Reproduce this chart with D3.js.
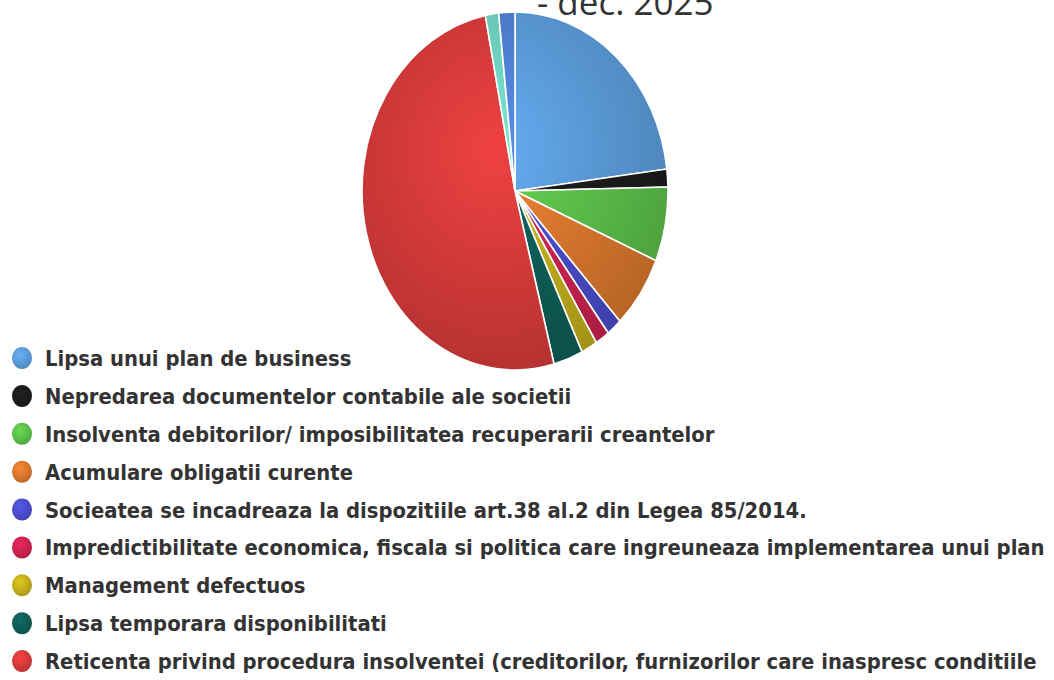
<!DOCTYPE html>
<html>
<head>
<meta charset="utf-8">
<script src="https://cdnjs.cloudflare.com/ajax/libs/d3/7.8.5/d3.min.js"></script>
<style>
    html, body { margin: 0; padding: 0; background: #fff; }
    svg { display: block; }
</style>
</head>
<body>
<div class="chart"></div>
<script>
    // slices, clockwise from 12 o'clock (percent)
    var categories = [
        "Lipsa unui plan de business",
        "Nepredarea documentelor contabile ale societii",
        "Insolventa debitorilor/ imposibilitatea recuperarii creantelor",
        "Acumulare obligatii curente",
        "Socieatea se incadreaza la dispozitiile art.38 al.2 din Legea 85/2014.",
        "Impredictibilitate economica, fiscala si politica care ingreuneaza implementarea unui plan",
        "Management defectuos",
        "Lipsa temporara disponibilitati",
        "Reticenta privind procedura insolventei (creditorilor, furnizorilor care inaspresc conditiile",
        "",
        ""
    ];
    var values = [23.0, 1.6, 6.7, 6.6, 1.6, 1.5, 1.7, 3.1, 50.9, 1.4, 1.7];
    var colors = ["#5b9bd9", "#1c1c1c", "#5cbf4a", "#d9772e", "#4a4ccb", "#cc2350",
                  "#c2ad1c", "#0e5e57", "#d73a3a", "#6fd1bf", "#4f80d2"];
    var titleText = "- dec. 2025";

    var width = 1054, height = 680;
    var cx = 515, cy = 191, rx = 153, ry = 179;

    var svg = d3.select(".chart").append("svg")
        .attr("width", width)
        .attr("height", height);

    var defs = svg.append("defs");

    // shaded fill per colour, lighter up-left like the original
    colors.forEach(function(c, i) {
        var g = defs.append("radialGradient")
            .attr("id", "pg" + i)
            .attr("gradientUnits", "userSpaceOnUse")
            .attr("cx", -25).attr("cy", -40).attr("r", 230);
        g.append("stop").attr("offset", 0).attr("stop-color", d3.color(c).brighter(0.3));
        g.append("stop").attr("offset", 1).attr("stop-color", d3.color(c).darker(0.5));

        var m = defs.append("radialGradient")
            .attr("id", "mg" + i)
            .attr("cx", 0.4).attr("cy", 0.35).attr("r", 0.7);
        m.append("stop").attr("offset", 0).attr("stop-color", d3.color(c).brighter(0.4));
        m.append("stop").attr("offset", 1).attr("stop-color", d3.color(c).darker(0.4));
    });

    // title (partly hidden behind the pie, cut at the top like the original)
    svg.append("text")
        .attr("x", 537)
        .attr("y", 15)
        .style("font-family", "'Open Sans', sans-serif")
        .style("font-size", "35px")
        .style("fill", "#333")
        .text(titleText);

    var pie = d3.pie().sort(null).value(function(d) { return d; });
    var arc = d3.arc().innerRadius(0).outerRadius(ry);

    var pieG = svg.append("g")
        .attr("transform", "translate(" + cx + "," + cy + ") scale(" + (rx / ry) + ",1)");

    pieG.selectAll("path")
        .data(pie(values))
        .enter().append("path")
        .attr("d", arc)
        .attr("fill", function(d, i) { return "url(#pg" + i + ")"; })
        .attr("stroke", "#fff")
        .attr("stroke-width", 1.6)
        .attr("vector-effect", "non-scaling-stroke");

    // legend
    var legendData = categories
        .map(function(name, i) { return { name: name, i: i }; })
        .filter(function(d) { return d.name !== ""; });

    var y = d3.scalePoint()
        .domain(legendData.map(function(d) { return d.name; }))
        .range([358, 661]);

    var item = svg.append("g").attr("class", "legend")
        .selectAll("g")
        .data(legendData)
        .enter().append("g")
        .attr("transform", function(d) { return "translate(0," + y(d.name) + ")"; });

    item.append("ellipse")
        .attr("cx", 22)
        .attr("rx", 10)
        .attr("ry", 11)
        .attr("fill", function(d) { return "url(#mg" + d.i + ")"; });

    item.append("text")
        .attr("x", 45)
        .attr("y", 8)
        .style("font-family", "'DejaVu Sans Condensed', 'DejaVu Sans', sans-serif")
        .style("font-weight", "bold")
        .style("font-size", "21.8px")
        .style("fill", "#333")
        .text(function(d) { return d.name; });
</script>
</body>
</html>
